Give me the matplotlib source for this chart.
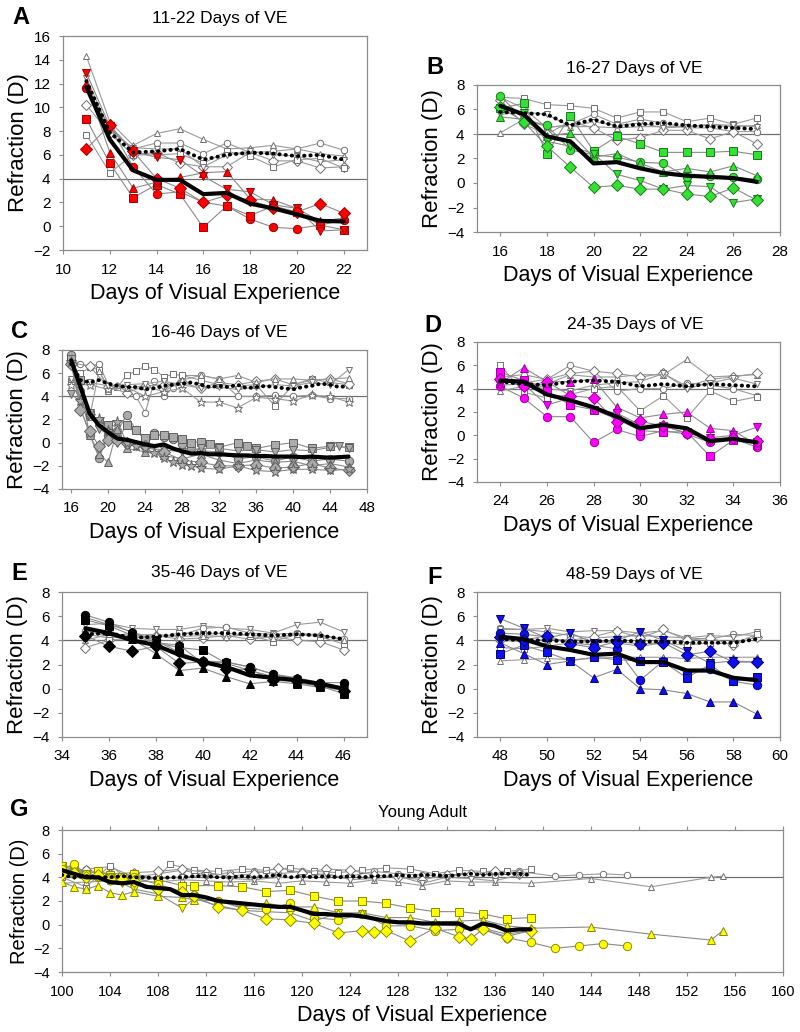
import matplotlib
matplotlib.use("Agg")
import matplotlib.pyplot as plt

plt.rcParams['font.family'] = ['Liberation Sans', 'DejaVu Sans']

# ---------------- Panel A: 11-22 days ----------------
A_days = list(range(11, 23))
A_red_circle = [11.6, 8.4, 5.0, 2.7, 2.9, 2.0, 1.7, 0.6, -0.1, -0.2, 0.1, 0.5]
A_red_square = [9.0, 5.3, 2.4, 3.5, 2.7, -0.1, 1.7, 0.9, 1.7, 1.2, 0.1, -0.3]
A_red_tri_up = [12.0, 6.2, 3.2, 3.7, 4.1, 4.5, 4.6, 2.3, 2.2, 1.5, 0.4, 0.7]
A_red_tri_dn = [12.9, 8.4, 6.3, 5.8, 5.6, 4.2, 3.1, 2.9, 1.8, 1.5, -0.4, -0.3]
A_red_diamond = [6.5, 8.5, 6.3, 4.0, 3.2, 2.0, 2.6, 2.2, 1.5, 1.2, 1.9, 1.1]
A_open_tri_up = [14.3, 8.8, 6.8, 7.8, 8.2, 7.3, 6.5, 6.6, 6.8, 6.5, 6.1, 5.9]
A_open_circle = [11.5, 8.2, 6.5, 7.0, 7.0, 6.1, 7.0, 6.2, 6.3, 6.5, 7.0, 6.4]
A_open_diamond = [10.2, 7.8, 6.0, 6.2, 5.3, 5.0, 5.0, 6.2, 5.5, 5.5, 4.9, 5.0]
A_open_square = [7.7, 4.5, 6.0, 6.0, 6.1, 5.3, 6.3, 5.9, 5.0, 5.6, 5.7, 4.9]
A_open_tri_dn = [12.5, 8.0, 6.6, 6.5, 6.5, 5.0, 6.0, 6.3, 6.0, 5.9, 5.4, 5.6]
A_mean_treated = [11.7, 7.3, 4.7, 3.9, 3.9, 2.7, 2.8, 1.9, 1.5, 1.0, 0.45, 0.4]
A_mean_control = [12.2, 7.9, 6.2, 6.3, 6.5, 5.6, 6.0, 6.2, 6.1, 5.9, 6.0, 5.6]

# ---------------- Panel B: 16-27 days ----------------
B_days = list(range(16, 28))
B_grn_circle = [7.1, 5.2, 4.7, 2.7, 2.3, 2.1, 1.7, 1.6, 0.5, 0.6, 0.5, 0.3]
B_grn_square = [6.1, 6.5, 2.4, 5.5, 2.6, 3.8, 3.2, 2.5, 2.5, 2.5, 2.6, 2.3]
B_grn_tri_up = [5.4, 5.2, 3.8, 4.1, 2.1, 2.4, 1.6, 0.9, 1.2, 0.9, 1.4, 0.6]
B_grn_tri_dn = [6.1, 5.7, 3.4, 3.0, 2.4, 0.7, 0.2, -0.5, -0.2, -0.3, -1.6, -1.3]
B_grn_diamond = [6.2, 5.0, 3.0, 1.3, -0.35, -0.2, -0.5, -0.5, -0.9, -1.1, -0.4, -1.4]
B_open_square = [7.0, 6.9, 6.4, 6.3, 6.1, 5.3, 5.8, 5.8, 5.0, 5.3, 4.8, 5.3]
B_open_tri_up = [4.1, 5.2, 4.6, 4.6, 4.6, 4.5, 4.6, 4.6, 4.6, 4.7, 4.6, 4.7]
B_open_circle = [7.0, 6.1, 4.5, 4.8, 5.6, 4.8, 5.2, 4.9, 4.5, 4.5, 4.2, 4.2]
B_open_diamond = [6.8, 4.8, 4.0, 5.0, 4.5, 3.5, 3.7, 4.3, 4.3, 3.6, 4.2, 3.2]
B_open_tri_dn = [5.6, 5.8, 5.6, 4.6, 5.0, 4.7, 4.9, 4.5, 4.6, 4.8, 4.7, 4.6]
B_mean_treated = [6.3, 5.6, 3.8, 3.4, 1.6, 1.7, 1.2, 0.8, 0.6, 0.5, 0.4, 0.1]
B_mean_control = [5.8, 5.7, 5.6, 4.7, 5.2, 4.6, 4.8, 4.9, 4.7, 4.6, 4.5, 4.4]

# ---------------- Panel C: 16-46 days ----------------
C_circle_days = [16, 17, 18, 19, 20, 21, 22, 23, 24, 25, 26, 27, 28, 29, 30, 32, 34, 36, 38, 40, 42, 44, 46]
C_gray_circle = [7.6, 4.5, 0.7, -1.3, 0.7, 1.0, 2.4, 1.1, 0.2, 0.8, 0.5, 0.3, -0.1, -0.5, -0.7, -0.8, -1.4, -1.2, -1.6, -1.2, -1.6, -1.4, -1.6]
C_square_days = [16, 17, 18, 19, 20, 21, 22, 23, 24, 25, 26, 27, 28, 29, 30, 31, 32, 34, 35, 36, 38, 40, 42, 44, 46]
C_gray_square = [7.2, 5.4, 2.5, 1.8, 1.5, 0.3, 1.5, 1.1, 0.4, 0.7, 0.7, 0.5, 0.3, 0.0, 0.1, -0.1, -0.4, 0.0, -0.3, -0.5, -0.2, 0.0, -0.5, -0.3, -0.4]
C_tri_up_days = [16, 17, 18, 19, 20, 21, 22, 24, 26, 28, 30, 32, 34, 36, 38, 40, 42, 44, 46]
C_gray_tri_up = [7.0, 3.0, 0.7, -1.0, -1.7, 1.2, -0.5, -0.8, -1.1, -1.4, -1.0, -1.5, -1.8, -1.5, -1.7, -1.6, -2.0, -1.8, -2.1]
C_tri_dn_days = [16, 17, 18, 19, 20, 21, 22, 23, 24, 26, 28, 30, 32, 34, 36, 38, 40, 42, 44, 45, 46]
C_gray_tri_dn = [4.2, 3.5, 2.6, 1.2, 0.7, 0.0, 0.0, -0.3, -0.5, -0.6, -0.8, -0.5, -0.5, -0.7, -0.6, -0.8, -0.6, -0.7, -0.4, -0.3, -0.5]
C_diamond_days = [16, 17, 18, 19, 20, 21, 22, 24, 26, 28, 30, 32, 34, 36, 38, 40, 42, 44, 46]
C_gray_diamond = [6.8, 2.8, 1.0, -0.3, 0.2, 0.2, 0.0, -0.3, -0.8, -1.5, -1.7, -2.0, -2.0, -1.9, -2.2, -2.1, -1.8, -2.2, -2.4]
C_star_days = [16, 17, 18, 19, 20, 21, 22, 23, 24, 25, 26, 27, 28, 29, 30, 32, 34, 36, 38, 40, 42, 44, 46]
C_gray_star = [7.0, 3.6, 2.3, 2.0, 1.0, 1.8, 0.0, -0.3, -0.5, -0.9, -1.3, -1.7, -1.9, -2.0, -2.2, -2.3, -2.0, -2.4, -2.5, -2.3, -2.3, -2.4, -2.3]
C_open_circle_days = [16, 17, 18, 19, 20, 21, 22, 23, 24, 25, 26, 27, 28, 30, 32, 34, 36, 38, 40, 42, 44, 46]
C_open_circle = [7.2, 6.8, 6.6, 6.8, 5.0, 4.9, 4.4, 4.0, 2.6, 5.3, 4.0, 4.7, 5.8, 5.8, 5.5, 4.0, 4.0, 4.1, 4.0, 4.1, 3.8, 3.8]
C_open_square_days = [16, 17, 18, 19, 20, 21, 22, 23, 24, 25, 26, 27, 28, 30, 32, 34, 36, 38, 40, 42, 44, 46]
C_open_square = [5.3, 6.0, 6.5, 6.3, 4.5, 4.8, 5.8, 6.2, 6.6, 6.3, 5.7, 5.9, 5.8, 5.4, 5.0, 4.9, 5.0, 3.2, 5.0, 5.5, 5.2, 5.0]
C_open_even_days = [16, 18, 20, 22, 24, 26, 28, 30, 32, 34, 36, 38, 40, 42, 44, 46]
C_open_diamond = [6.9, 6.6, 4.8, 4.3, 4.9, 5.0, 5.2, 4.7, 5.2, 5.0, 5.3, 5.5, 5.0, 5.4, 5.5, 5.1]
C_open_star = [5.0, 5.0, 4.6, 4.8, 4.0, 4.4, 4.7, 3.5, 3.5, 3.0, 3.9, 3.8, 3.6, 4.1, 4.0, 3.5]
C_open_tri_dn = [5.5, 5.2, 4.9, 5.0, 5.1, 5.3, 5.0, 4.7, 4.8, 4.6, 4.8, 5.0, 4.9, 5.2, 5.0, 6.3]
C_open_tri_up_days = [16, 17, 18, 19, 20, 21, 22, 24, 26, 28, 30, 32, 34, 36, 38, 40, 42, 44, 46]
C_open_tri_up = [5.5, 4.5, 2.2, 6.2, 4.8, 5.0, 4.7, 4.9, 4.4, 5.4, 5.8, 5.5, 5.8, 5.2, 5.5, 5.5, 5.4, 5.5, 5.6]
C_days = list(range(16, 47))
C_mean_treated = [7.1, 4.8, 2.5, 1.5, 0.9, 0.35, 0.25, 0.05, -0.15, -0.3, -0.15, -0.5, -0.75, -0.95,
                  -0.9, -1.0, -1.0, -1.05, -1.1, -1.1, -1.15, -1.15, -1.2, -1.2, -1.2, -1.25, -1.2, -1.25,
                  -1.3, -1.25, -1.2]
C_mean_control = [6.8, 5.4, 5.2, 5.4, 5.1, 4.9, 4.8, 4.8, 4.6, 4.7, 4.9, 5.0, 5.1, 5.2, 5.0, 4.8,
                  4.9, 4.8, 5.0, 4.7, 4.8, 4.9, 4.8, 4.7, 4.6, 4.8, 4.9, 5.1, 5.0, 4.8, 4.9]

# ---------------- Panel D: 24-35 days ----------------
D_days = list(range(24, 36))
D_mag_circle = [4.2, 3.2, 1.6, 1.6, -0.6, 0.5, -0.1, 0.4, 0.1, -0.6, -0.3, -1.0]
D_mag_square = [5.4, 4.7, 3.8, 2.6, 2.2, 1.4, 0.4, 0.3, 0.3, -1.8, -0.4, -0.6]
D_mag_tri_up = [4.5, 5.8, 4.6, 4.6, 4.8, 2.4, 1.5, 1.8, 2.0, 0.6, 0.4, -0.8]
D_mag_tri_dn = [4.3, 4.4, 2.6, 3.2, 2.2, 1.9, 0.9, 0.8, 0.2, -0.2, 0.0, 0.7]
D_mag_diamond = [4.8, 4.2, 4.6, 3.4, 3.2, 1.1, 1.2, 0.8, 0.2, -0.3, -0.2, -0.5]
D_open_tri_up = [3.8, 4.2, 4.4, 5.2, 5.0, 5.0, 5.2, 5.2, 6.5, 5.0, 5.1, 5.2]
D_open_circle = [5.0, 5.2, 4.8, 6.0, 5.5, 3.8, 4.0, 4.0, 4.5, 4.3, 4.0, 3.4]
D_open_square = [6.0, 3.7, 3.2, 3.5, 4.0, 4.2, 2.1, 3.4, 1.5, 3.8, 2.9, 3.3]
D_open_diamond = [4.7, 4.5, 4.8, 5.3, 5.5, 5.3, 5.0, 5.3, 4.2, 4.8, 5.0, 5.3]
D_open_tri_dn = [4.5, 4.7, 4.0, 3.8, 4.3, 4.5, 4.6, 5.3, 4.0, 4.5, 4.9, 4.4]
D_mean_treated = [4.7, 4.6, 3.5, 3.0, 2.4, 1.6, 0.6, 0.9, 0.6, -0.5, -0.3, -0.6]
D_mean_control = [4.6, 4.4, 4.3, 4.6, 4.7, 4.6, 4.2, 4.4, 4.2, 4.4, 4.3, 4.2]

# ---------------- Panel E: 35-46 days ----------------
E_days = list(range(35, 47))
E_blk_circle = [6.1, 5.5, 4.6, 4.0, 3.0, 2.3, 2.2, 1.8, 1.2, 0.8, 0.5, 0.5]
E_blk_square = [5.7, 5.2, 4.4, 3.8, 3.4, 3.2, 2.1, 1.5, 1.0, 0.5, 0.2, -0.4]
E_blk_tri_up = [4.7, 4.8, 4.1, 2.9, 1.5, 1.7, 1.0, 0.4, 0.6, 0.4, 0.1, -0.1]
E_blk_diamond = [4.4, 3.5, 3.1, 3.5, 2.1, 2.2, 1.6, 1.6, 0.7, 0.6, 0.3, -0.2]
E_blk_hexagon = [5.9, 5.3, 4.7, 3.8, 3.6, 2.1, 2.2, 1.8, 1.2, 0.9, 0.5, 0.1]
E_open_tri_dn = [5.3, 5.4, 5.0, 4.9, 4.9, 5.2, 5.0, 4.9, 4.6, 5.3, 5.5, 4.7]
E_open_circle = [4.8, 4.3, 4.6, 4.3, 4.4, 5.0, 5.1, 4.6, 4.5, 4.6, 4.4, 4.1]
E_open_diamond = [3.4, 4.0, 4.2, 4.4, 4.1, 4.2, 4.4, 4.1, 4.3, 4.0, 3.9, 3.2]
E_open_square = [4.5, 4.2, 4.3, 4.2, 4.6, 4.5, 4.6, 4.4, 3.9, 4.5, 4.3, 3.7]
E_open_tri_up = [4.0, 4.5, 4.4, 4.5, 4.3, 4.4, 4.3, 4.5, 4.2, 4.5, 4.5, 4.0]
E_mean_treated = [5.0, 4.6, 4.0, 3.6, 2.8, 2.2, 1.8, 1.1, 0.9, 0.7, 0.4, 0.0]
E_mean_control = [4.5, 4.6, 4.2, 4.3, 4.5, 4.6, 4.6, 4.5, 4.4, 4.5, 4.4, 4.1]

# ---------------- Panel F: 48-59 days ----------------
F_days = list(range(48, 60))
F_blu_tri_dn = [5.8, 5.0, 4.2, 4.6, 3.8, 4.0, 4.7, 4.0, 3.1, 2.1, 2.3, 2.2]
F_blu_circle = [4.6, 4.5, 4.3, 3.8, 3.6, 3.3, 0.7, 2.3, 1.3, 1.6, 0.6, 0.3]
F_blu_square = [2.9, 3.6, 3.0, 2.3, 2.6, 2.4, 2.3, 2.2, 0.9, 2.0, 0.6, 1.0]
F_blu_tri_up = [3.8, 2.9, 2.0, 2.3, 0.9, 1.6, 0.0, -0.1, -0.4, -1.1, -1.1, -2.1]
F_blu_diamond = [4.3, 4.0, 4.4, 3.7, 3.4, 3.9, 3.7, 3.8, 2.8, 3.1, 2.2, 2.2]
F_open_tri_up = [2.3, 2.4, 2.5, 2.4, 2.5, 2.6, 2.6, 2.6, 2.5, 2.6, 2.6, 2.6]
F_open_circle = [5.0, 4.9, 4.7, 4.4, 4.2, 4.3, 4.4, 4.3, 4.2, 4.1, 4.5, 4.4]
F_open_tri_dn = [4.9, 4.9, 5.0, 4.7, 4.8, 4.8, 4.6, 4.8, 4.2, 4.4, 4.3, 4.7]
F_open_diamond = [4.0, 3.9, 4.1, 4.0, 4.3, 4.8, 4.2, 4.9, 4.0, 4.2, 3.6, 4.3]
F_open_square = [3.4, 3.3, 3.5, 3.8, 3.9, 3.8, 3.5, 3.8, 3.6, 3.8, 3.7, 4.5]
F_mean_treated = [4.3, 4.1, 3.5, 3.2, 2.8, 2.9, 2.2, 2.2, 1.5, 1.5, 0.9, 0.7]
F_mean_control = [4.1, 4.0, 4.0, 3.9, 3.9, 4.0, 3.9, 3.9, 3.8, 3.8, 3.8, 4.1]

# ---------------- Panel G: young adult ----------------
G_sq_days = [100, 101, 102, 103, 104, 105, 106, 108, 110, 111, 113, 115, 117, 119, 121, 123, 125, 127, 129, 131, 133, 135, 137, 139]
G_yel_square = [5.0, 4.8, 4.3, 4.5, 4.2, 4.0, 4.3, 3.8, 3.3, 3.3, 3.3, 3.2, 2.8, 2.9, 2.4, 2.0, 2.0, 1.8, 1.4, 1.1, 1.1, 0.9, 0.5, 0.6]
G_yel_tri_dn = [5.0, 4.6, 4.2, 4.1, 4.0, 3.5, 3.0, 2.6, 1.4, 2.2, 1.6, 1.2, 1.1, 1.0, 0.3, 1.0, 0.9, 0.2, 0.0, 0.0, -0.1, -0.3, -0.8, -0.5]
G_ci_days = [100, 101, 102, 103, 104, 105, 106, 108, 110, 111, 113, 115, 117, 119, 121, 123, 125, 127, 129, 131, 133, 135, 137, 139, 141, 143, 145, 147]
G_yel_circle = [4.7, 5.1, 4.3, 4.0, 4.0, 3.8, 4.0, 3.4, 2.8, 2.5, 2.0, 1.4, 1.3, 1.8, 0.6, 0.4, 0.9, -0.1, -0.1, -0.5, -0.4, -0.4, -1.1, -1.5, -2.0, -1.8, -1.6, -1.8]
G_tr_days = [100, 101, 102, 103, 104, 105, 106, 108, 110, 111, 113, 115, 117, 119, 121, 123, 125, 127, 129, 131, 133, 135, 137, 139, 144, 149, 154, 155]
G_yel_tri_up = [3.6, 3.2, 3.0, 3.3, 2.7, 2.5, 2.8, 2.4, 2.3, 2.1, 2.0, 1.5, 1.8, 1.5, 1.5, 1.0, 1.0, 0.6, 0.6, 0.2, 0.3, 0.4, -0.1, -0.3, -0.2, -0.8, -1.3, -0.5]
G_di_days = [100, 101, 102, 103, 104, 105, 106, 108, 110, 111, 113, 115, 117, 119, 121, 123, 125, 126, 127, 129, 131, 133, 134, 135, 137, 139]
G_yel_diamond = [4.3, 4.4, 4.0, 4.2, 3.9, 3.9, 3.7, 3.0, 2.8, 2.4, 1.5, 1.2, 0.5, 0.4, 0.1, -0.7, -0.5, -0.6, -0.5, -1.4, -0.3, -1.0, -1.2, -0.4, -1.0, -0.5]
G_oc_days = [100, 102, 104, 106, 108, 110, 112, 114, 116, 118, 120, 122, 124, 126, 128, 130, 132, 134, 136, 138, 141, 143, 145, 147]
G_open_circle = [4.4, 4.7, 4.9, 4.0, 4.3, 4.6, 4.2, 4.4, 4.5, 4.3, 4.5, 4.2, 4.1, 4.5, 4.3, 4.2, 4.1, 4.3, 4.2, 4.5, 4.1, 4.2, 4.3, 4.2]
G_os_days = [100, 102, 104, 106, 108, 109, 111, 113, 115, 117, 119, 121, 123, 125, 127, 129, 131, 133, 135, 137, 139]
G_open_square = [4.0, 3.2, 5.0, 3.5, 4.0, 5.1, 4.6, 4.5, 4.7, 4.6, 4.8, 4.5, 4.4, 4.6, 4.8, 4.7, 4.3, 4.6, 4.5, 4.5, 4.7]
G_ot_days = [100, 102, 104, 106, 108, 110, 112, 114, 116, 118, 120, 122, 124, 126, 128, 130, 132, 134, 136, 139, 144, 149, 154, 155]
G_open_tri_up = [3.5, 3.6, 3.7, 3.7, 3.6, 3.8, 3.7, 3.6, 3.7, 3.5, 3.7, 3.6, 3.5, 3.8, 3.6, 3.3, 3.7, 3.6, 3.6, 3.5, 3.9, 3.2, 4.0, 4.1]
G_even_days = [100, 102, 104, 106, 108, 110, 112, 114, 116, 118, 120, 122, 124, 126, 128, 130, 132, 134, 136, 138]
G_open_diamond = [4.2, 4.6, 4.3, 4.4, 4.5, 4.7, 4.4, 4.1, 4.3, 4.8, 4.4, 4.7, 4.6, 4.2, 4.0, 3.8, 4.2, 4.3, 4.5, 4.3]
G_open_tri_dn = [4.8, 4.3, 4.1, 4.0, 3.9, 4.0, 4.2, 3.9, 3.8, 4.0, 4.0, 4.3, 3.8, 3.9, 4.1, 3.5, 4.0, 3.9, 3.7, 4.2]
G_days = list(range(100, 140))
G_mean_treated = [4.6, 4.3, 4.0, 4.0, 3.6, 3.5, 3.6, 3.2, 3.1, 3.0, 2.5, 2.5, 2.3, 2.0, 1.9, 1.8, 1.7, 1.6, 1.5, 1.5,
                  1.2, 0.9, 0.9, 0.8, 0.8, 0.7, 0.5, 0.3, 0.2, 0.2, 0.1, 0.1, 0.1, 0.1, -0.4, 0.1, -0.1, -0.5, -0.4, -0.4]
G_mean_control = [4.2, 4.0, 4.1, 4.0, 4.0, 4.1, 4.0, 4.0, 3.9, 4.0, 4.0, 4.1, 4.1, 4.0, 4.0, 4.1, 4.0, 4.1, 4.2, 4.0,
                  4.1, 4.0, 4.1, 4.0, 4.1, 4.0, 4.1, 4.1, 4.2, 4.1, 4.2, 4.2, 4.1, 4.2, 4.3, 4.2, 4.3, 4.3, 4.3, 4.2]

W, H = 800, 1032
fig = plt.figure(figsize=(W / 100, H / 100), dpi=100)


def rect(l, t, r, b):
    return [l / W, 1 - b / H, (r - l) / W, (b - t) / H]


def panel(box, xlim, xticks, ylim, yticks, filled, opened, days, treated, control,
          face, edge, letter, title, letter_xy, title_xy, wide=False):
    ax = fig.add_axes(rect(*box))
    ax.axhline(4, color='#707070', lw=0.9, zorder=1)
    for x, y, m in opened:
        ax.plot(x, y, color='#9a9a9a', lw=0.8, marker=m, ms=4.6 if m != '*' else 6.5,
                mfc='white', mec='#707070', mew=0.7, zorder=2)
    for x, y, m in filled:
        ax.plot(x, y, color='#8a8a8a', lw=0.8, marker=m, ms=6 if m != '*' else 8,
                mfc=face, mec=edge, mew=0.7, zorder=3)
    ax.plot(days, control, color='black', lw=2.8, linestyle=(0, (0.1, 1.5)),
            dash_capstyle='round', zorder=4)
    ax.plot(days, treated, color='black', lw=3, solid_capstyle='round', zorder=5)
    ax.set_xlim(*xlim)
    ax.set_ylim(*ylim)
    ax.set_xticks(xticks)
    ax.set_yticks(yticks)
    for s in ax.spines.values():
        s.set_color('#8c8c8c')
        s.set_linewidth(0.9)
    ax.tick_params(labelsize=11 if not wide else 10.5, length=3, color='#8c8c8c', width=0.8,
                   direction='out', pad=6)
    if wide:
        ax.tick_params(top=True)
    ax.set_xlabel('Days of Visual Experience', fontsize=15.5, labelpad=5)
    ax.set_ylabel('Refraction (D)', fontsize=16 if not wide else 14.5, labelpad=3)
    fig.text(letter_xy[0] / W, 1 - letter_xy[1] / H, letter, fontsize=17, fontweight='bold',
             ha='center', va='center')
    fig.text(title_xy[0] / W, 1 - title_xy[1] / H, title, fontsize=12.5 if not wide else 12,
             ha='center', va='center')
    return ax


panel((63, 36, 367, 250), (10, 23), range(10, 23, 2), (-2, 16), range(-2, 17, 2),
      [(A_days, A_red_circle, 'o'), (A_days, A_red_square, 's'), (A_days, A_red_tri_up, '^'),
       (A_days, A_red_tri_dn, 'v'), (A_days, A_red_diamond, 'D')],
      [(A_days, A_open_tri_up, '^'), (A_days, A_open_circle, 'o'), (A_days, A_open_diamond, 'D'),
       (A_days, A_open_square, 's'), (A_days, A_open_tri_dn, 'v')],
      A_days, A_mean_treated, A_mean_control, '#ff0000', '#a00000',
      'A', '11-22 Days of VE', (21, 17), (220, 18))

panel((477, 85, 780, 232), (15, 28), range(16, 29, 2), (-4, 8), range(-4, 9, 2),
      [(B_days, B_grn_circle, 'o'), (B_days, B_grn_square, 's'), (B_days, B_grn_tri_up, '^'),
       (B_days, B_grn_tri_dn, 'v'), (B_days, B_grn_diamond, 'D')],
      [(B_days, B_open_square, 's'), (B_days, B_open_tri_up, '^'), (B_days, B_open_circle, 'o'),
       (B_days, B_open_diamond, 'D'), (B_days, B_open_tri_dn, 'v')],
      B_days, B_mean_treated, B_mean_control, '#33e033', '#1a7a1a',
      'B', '16-27 Days of VE', (435, 68), (634, 68))

panel((62, 350, 367, 489), (15, 48), range(16, 49, 4), (-4, 8), range(-4, 9, 2),
      [(C_circle_days, C_gray_circle, 'o'), (C_square_days, C_gray_square, 's'),
       (C_tri_up_days, C_gray_tri_up, '^'), (C_tri_dn_days, C_gray_tri_dn, 'v'),
       (C_diamond_days, C_gray_diamond, 'D'), (C_star_days, C_gray_star, '*')],
      [(C_open_circle_days, C_open_circle, 'o'), (C_open_square_days, C_open_square, 's'),
       (C_open_even_days, C_open_diamond, 'D'), (C_open_tri_up_days, C_open_tri_up, '^'),
       (C_open_even_days, C_open_star, '*'), (C_open_even_days, C_open_tri_dn, 'v')],
      C_days, C_mean_treated, C_mean_control, '#ababab', '#606060',
      'C', '16-46 Days of VE', (19, 332), (219, 332))

panel((477, 342, 780, 482), (23, 36), range(24, 37, 2), (-4, 8), range(-4, 9, 2),
      [(D_days, D_mag_circle, 'o'), (D_days, D_mag_square, 's'), (D_days, D_mag_tri_up, '^'),
       (D_days, D_mag_tri_dn, 'v'), (D_days, D_mag_diamond, 'D')],
      [(D_days, D_open_tri_up, '^'), (D_days, D_open_circle, 'o'), (D_days, D_open_square, 's'),
       (D_days, D_open_diamond, 'D'), (D_days, D_open_tri_dn, 'v')],
      D_days, D_mean_treated, D_mean_control, '#ff00ff', '#9a009a',
      'D', '24-35 Days of VE', (433, 325), (635, 325))

panel((62, 592, 367, 737), (34, 47), range(34, 47, 2), (-4, 8), range(-4, 9, 2),
      [(E_days, E_blk_circle, 'o'), (E_days, E_blk_square, 's'), (E_days, E_blk_tri_up, '^'),
       (E_days, E_blk_diamond, 'D'), (E_days, E_blk_hexagon, 'h')],
      [(E_days, E_open_tri_dn, 'v'), (E_days, E_open_circle, 'o'), (E_days, E_open_diamond, 'D'),
       (E_days, E_open_square, 's'), (E_days, E_open_tri_up, '^')],
      E_days, E_mean_treated, E_mean_control, '#000000', '#000000',
      'E', '35-46 Days of VE', (19, 573), (219, 573))

panel((477, 592, 780, 737), (47, 60), range(48, 61, 2), (-4, 8), range(-4, 9, 2),
      [(F_days, F_blu_tri_dn, 'v'), (F_days, F_blu_circle, 'o'), (F_days, F_blu_square, 's'),
       (F_days, F_blu_tri_up, '^'), (F_days, F_blu_diamond, 'D')],
      [(F_days, F_open_tri_up, '^'), (F_days, F_open_circle, 'o'), (F_days, F_open_tri_dn, 'v'),
       (F_days, F_open_diamond, 'D'), (F_days, F_open_square, 's')],
      F_days, F_mean_treated, F_mean_control, '#1010ee', '#000080',
      'F', '48-59 Days of VE', (435, 577), (634, 575))

panel((62, 830, 783, 972), (100, 160), range(100, 161, 4), (-4, 8), range(-4, 9, 2),
      [(G_sq_days, G_yel_square, 's'), (G_sq_days, G_yel_tri_dn, 'v'), (G_ci_days, G_yel_circle, 'o'),
       (G_tr_days, G_yel_tri_up, '^'), (G_di_days, G_yel_diamond, 'D')],
      [(G_oc_days, G_open_circle, 'o'), (G_os_days, G_open_square, 's'), (G_ot_days, G_open_tri_up, '^'),
       (G_even_days, G_open_diamond, 'D'), (G_even_days, G_open_tri_dn, 'v')],
      G_days, G_mean_treated, G_mean_control, '#ffff00', '#8a8a00',
      'G', 'Young Adult', (19, 810), (422, 812), wide=True)

fig.savefig('out.png', dpi=100)
